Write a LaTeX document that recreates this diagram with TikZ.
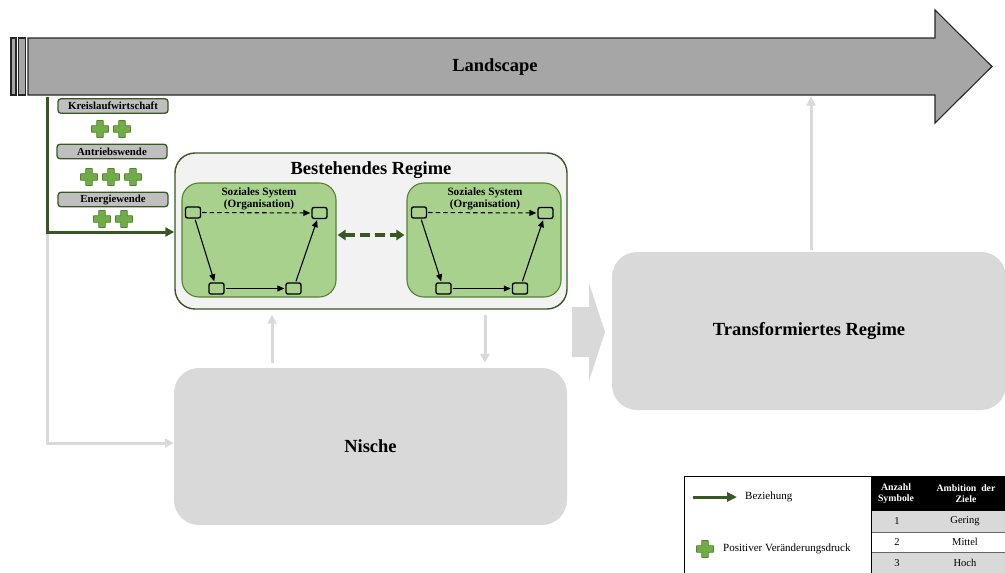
\documentclass[tikz,border=0pt]{standalone}
\usepackage{fontspec}
\setmainfont{Liberation Serif}
\usetikzlibrary{arrows.meta,calc}
\definecolor{dgreen}{HTML}{385723}
\definecolor{mgreen}{HTML}{548235}
\definecolor{pgreen}{HTML}{70AD47}
\definecolor{lgreen}{HTML}{A9D18E}
\definecolor{lgrey}{HTML}{D9D9D9}
\definecolor{mgrey}{HTML}{BFBFBF}
\definecolor{dgrey}{HTML}{A6A6A6}
\definecolor{vlgrey}{HTML}{F2F2F2}
\tikzset{
  lbl/.style={draw=dgreen, fill=mgrey, rounded corners=3, line width=1.3, minimum width=110, minimum height=14.5, inner sep=0, font=\bfseries\fontsize{10.8}{11}\selectfont},
  bigtitle/.style={font=\bfseries\fontsize{18.5}{20}\selectfont, inner sep=0},
  regimebox/.style={draw=dgreen, fill=vlgrey, line width=1.4, rounded corners=20, inner sep=0},
  sysbox/.style={draw=mgreen, fill=lgreen, line width=1.1, rounded corners=17, inner sep=0, minimum height=114},
  greybox/.style={fill=lgrey, rounded corners=25, inner sep=0, font=\bfseries\fontsize{18.5}{20}\selectfont},
  sq/.style={draw=black, line width=1.4, rounded corners=2, minimum width=15, minimum height=11, inner sep=0},
  blk/.style={draw=black, line width=1.1, -{Triangle[length=7,width=6]}, shorten >=1, shorten <=1},
  gline/.style={draw=dgreen, line width=3, -{Triangle[length=9,width=9]}},
  garrow/.style={draw=lgrey, line width=3, -{Triangle[length=9,width=9]}},
  small/.style={font=\bfseries\fontsize{11.2}{12}\selectfont, align=center, inner sep=0},
  greenplus/.pic={
    \draw[fill=pgreen, draw=mgreen, line width=0.7, rounded corners=0.4]
      (-3.3,-8.5) -- (3.3,-8.5) -- (3.3,-3.3) -- (8.5,-3.3) -- (8.5,3.3) -- (3.3,3.3) -- (3.3,8.5) -- (-3.3,8.5) -- (-3.3,3.3) -- (-8.5,3.3) -- (-8.5,-3.3) -- (-3.3,-3.3) -- cycle;
  }
}
\begin{document}
\begin{tikzpicture}[x=1pt,y=-1pt]
\useasboundingbox (0,0) rectangle (1005,573);

% Landscape arrow
\draw[fill=dgrey, draw=black!85, line width=1.1]
  (28,38) -- (935,38) -- (935,10) -- (992,66.5) -- (935,123) -- (935,95) -- (28,95) -- cycle;
\draw[fill=dgrey, draw=black!85, line width=1.1] (11,38) rectangle (16,95);
\draw[fill=dgrey, draw=black!85, line width=1.1] (18.5,38) rectangle (25.5,95);
\node[bigtitle] (land) at (495,67) {Landscape};

% Regime boxes
\node[regimebox, minimum width=392, minimum height=156] (best) at (371,231) {};
\node[bigtitle] (besttitle) at (371,170) {Bestehendes Regime};
\node[sysbox, minimum width=154] (sysL) at (259,240) {};
\node[sysbox, minimum width=154] (sysR) at (484,240) {};
\node[small] (sysLt) at (259,199) {Soziales System\\(Organisation)};
\node[small] (sysRt) at (485,199) {Soziales System\\(Organisation)};

% small squares left
\node[sq] (lTL) at (193,212.5) {};
\node[sq] (lTR) at (319.5,213) {};
\node[sq] (lBL) at (216.5,288.5) {};
\node[sq] (lBR) at (293.5,288.5) {};
% small squares right
\node[sq] (rTL) at (419,212.5) {};
\node[sq] (rTR) at (545.5,213) {};
\node[sq] (rBL) at (443.5,288.5) {};
\node[sq] (rBR) at (520,288.5) {};

\draw[blk, dashed, dash pattern=on 4.5 off 3] (lTL) -- (lTR);
\draw[blk] (lTL) -- (lBL);
\draw[blk] (lBL) -- (lBR);
\draw[blk] (lBR) -- (lTR);
\draw[blk, dashed, dash pattern=on 4.5 off 3] (rTL) -- (rTR);
\draw[blk] (rTL) -- (rBL);
\draw[blk] (rBL) -- (rBR);
\draw[blk] (rBR) -- (rTR);

\draw[draw=dgreen, line width=3.5, dash pattern=on 10 off 5, {Triangle[length=8,width=10]}-{Triangle[length=8,width=10]}] ($(sysL.east |- 0,235)+(1,0)$) -- ($(sysR.west |- 0,235)+(-2,0)$);

% grey boxes
\node[greybox, minimum width=393, minimum height=157] (nische) at (370.5,446.5) {Nische};
\node[greybox, minimum width=394, minimum height=158] (trans) at (809,331) {Transformiertes Regime};

% block arrow
\fill[lgrey] (572,307) -- (589,307) -- (589,283) -- (605,332) -- (589,381) -- (589,357) -- (572,357) -- cycle;

% grey connectors
\coordinate (uX) at (272,0);
\coordinate (dX) at (485,0);
\coordinate (tX) at (811,0);
\draw[garrow] ($(nische.north -| uX)+(0,-5)$) -- ($(best.south -| uX)+(0,5)$);
\draw[garrow] ($(best.south -| dX)+(0,5)$) -- ($(nische.north -| dX)+(0,-5)$);
\draw[garrow] ($(trans.north -| tX)+(0,-2)$) -- ($(tX |- 0,95)+(0,1.5)$);

% left connectors
\coordinate (gtop) at (47,97);
\coordinate (gcorner) at (47,232);
\coordinate (gstart) at (47,234);
\coordinate (gbot) at (47,443);
\draw[garrow] (gstart) -- (gbot) -- (gbot -| nische.west);
\draw[gline] (gtop) -- (gcorner) -- (gcorner -| best.west);

% labels and pluses
\node[lbl] (kreis) at (113,106) {Kreislaufwirtschaft};
\node[lbl] (antr) at (112,151.5) {Antriebswende};
\node[lbl] (energ) at (113,199.5) {Energiewende};
\pic at (100,129) {greenplus};
\pic at (122,129) {greenplus};
\pic at (89,177) {greenplus};
\pic at (111,177) {greenplus};
\pic at (133,177) {greenplus};
\pic at (102,219) {greenplus};
\pic at (124,219) {greenplus};

% legend
\draw[black, line width=0.8] (684,573) -- (684,476) -- (871,476);
\coordinate (legA) at (693,497);
\coordinate (legB) at (737,497);
\draw[draw=dgreen, line width=3, -{Triangle[length=10,width=9]}] (legA) -- (legB);
\node[font=\fontsize{11}{12}\selectfont, anchor=west, inner sep=0] (legtxt1) at (745,497) {Beziehung};
\pic at (705,549) {greenplus};
\node[font=\fontsize{11}{12}\selectfont, anchor=west, inner sep=0] (legtxt2) at (723,549) {Positiver Veränderungsdruck};

% table
\fill[black] (871,476) rectangle (1005,511);
\fill[lgrey] (871,511) rectangle (1005,532);
\fill[white] (871,532) rectangle (1005,552);
\fill[lgrey] (871,552) rectangle (1005,573);
\draw[black!60, line width=0.5] (871,532) -- (1005,532) (871,552) -- (1005,552);
\draw[black, line width=0.8] (871,476) -- (871,573);
\node[font=\bfseries\fontsize{9.8}{11.5}\selectfont, text=white, align=center, inner sep=0] (h1) at (896,493.5) {Anzahl\\Symbole};
\node[font=\bfseries\fontsize{9.8}{11.5}\selectfont, text=white, align=center, inner sep=0] (h2) at (966,493.5) {Ambition\ \ der\\Ziele};
\node[font=\fontsize{10.5}{11}\selectfont, inner sep=0] (r1a) at (897,521.5) {1};
\node[font=\fontsize{10.5}{11}\selectfont, inner sep=0] (r1b) at (965,521.5) {Gering};
\node[font=\fontsize{10.5}{11}\selectfont, inner sep=0] (r2a) at (897,542) {2};
\node[font=\fontsize{10.5}{11}\selectfont, inner sep=0] (r2b) at (965,542) {Mittel};
\node[font=\fontsize{10.5}{11}\selectfont, inner sep=0] (r3a) at (897,563) {3};
\node[font=\fontsize{10.5}{11}\selectfont, inner sep=0] (r3b) at (965,563) {Hoch};
\end{tikzpicture}
\end{document}
